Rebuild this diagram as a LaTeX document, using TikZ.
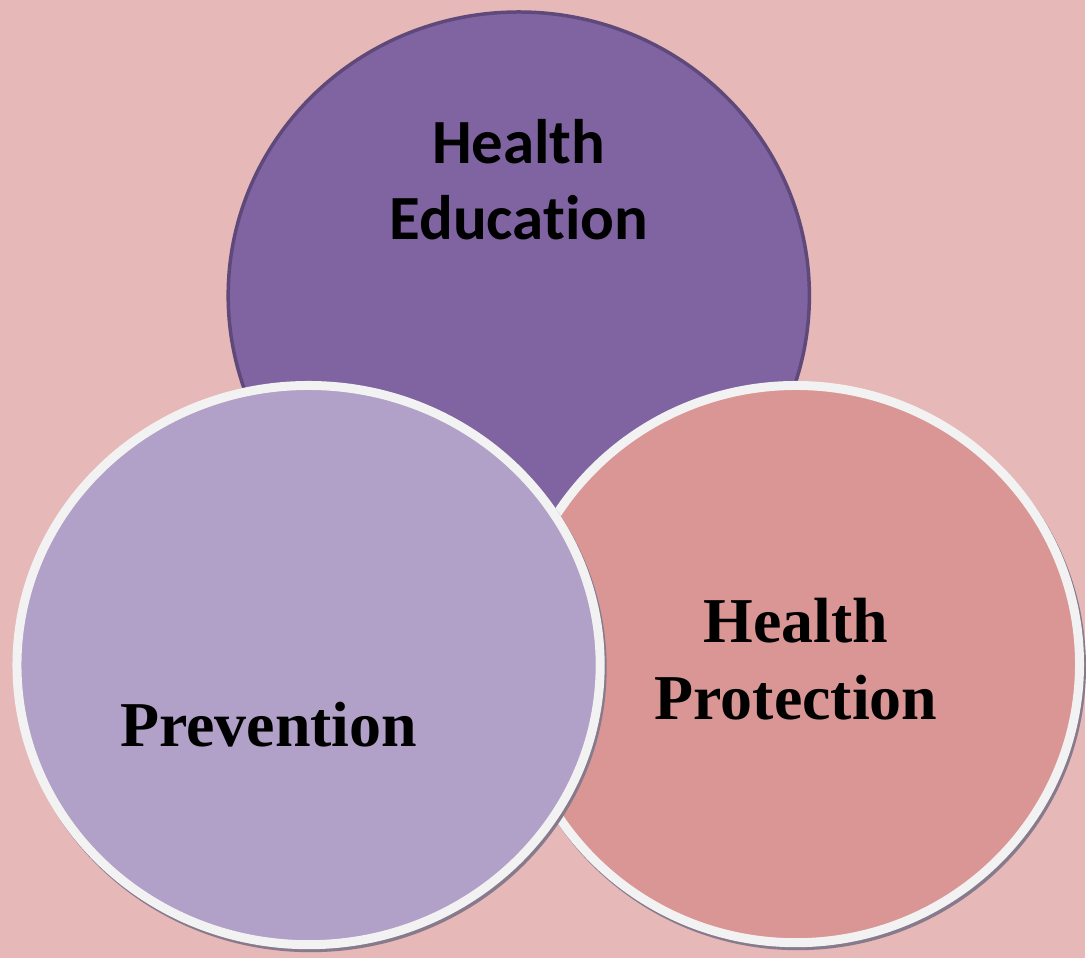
\documentclass[tikz,border=0pt]{standalone}
\usepackage{fontspec}
\setmainfont{Liberation Serif}
\newfontfamily\carlito[Ligatures=NoCommon]{Carlito}
\usetikzlibrary{shapes.geometric}

\begin{document}
\begin{tikzpicture}[x=1pt,y=1pt,yscale=-1,xscale=1,
  disc/.style={ellipse,inner sep=0pt,line width=9pt,draw={rgb, 255:red, 242; green, 242; blue, 242 }},
  discshadow/.style={ellipse,inner sep=0pt,line width=9pt,draw={rgb, 255:red, 134; green, 122; blue, 140 }},
  serifword/.style={font=\fontsize{64}{77}\selectfont\bfseries,inner sep=0pt,align=center},
  sansword/.style={font=\carlito\fontsize{63}{76}\selectfont\bfseries,inner sep=0pt,align=center}]

\fill [fill={rgb, 255:red, 230; green, 184; blue, 183 }] (0,0) rectangle (1086,959) ;

% top circle
\node (educ) [ellipse,inner sep=0pt,minimum width=582pt,minimum height=568pt,line width=3.5pt,draw={rgb, 255:red, 94; green, 73; blue, 122 },fill={rgb, 255:red, 128; green, 100; blue, 162 }] at (519.5,296) {};

% right circle
\node (protshadow) [discshadow,minimum width=568pt,minimum height=558pt] at (799,668) {};
\node (prot) [disc,minimum width=568pt,minimum height=558pt,fill={rgb, 255:red, 217; green, 150; blue, 148 }] at (797,665) {};

% left circle
\node (prevshadow) [discshadow,minimum width=584pt,minimum height=560pt] at (311,669) {};
\node (prev) [disc,minimum width=584pt,minimum height=560pt,fill={rgb, 255:red, 177; green, 160; blue, 199 }] at (309,666) {};

\node (eductext) [sansword] at (519.5,180) {Health\\Education};
\node (prottext) [serifword] at (797,660) {Health\\Protection};
\node (prevtext) [serifword,anchor=base] at (269,748) {Prevention};

\end{tikzpicture}
\end{document}
